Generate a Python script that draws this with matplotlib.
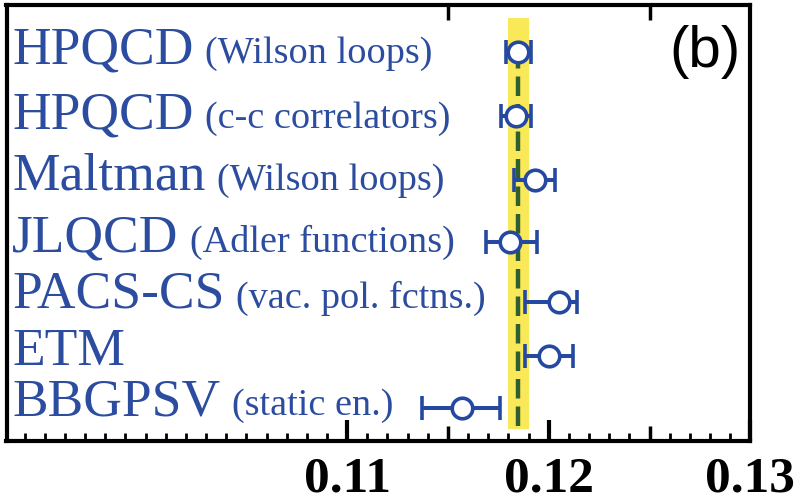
import matplotlib
matplotlib.use('Agg')
import matplotlib.pyplot as plt
import matplotlib.transforms as mtransforms
from matplotlib.ticker import MultipleLocator, FixedLocator

# alpha_s results
groups = ['HPQCD', 'HPQCD', 'Maltman', 'JLQCD', 'PACS-CS', 'ETM', 'BBGPSV']
methods = ['(Wilson loops)', '(c-c correlators)', '(Wilson loops)', '(Adler functions)',
           '(vac. pol. fctns.)', '', '(static en.)']
alpha_s = [0.1185, 0.11836, 0.1193, 0.1181, 0.1205, 0.1200, 0.1157]
err_lo = [0.0006, 0.00075, 0.0010, 0.0012, 0.0017, 0.0012, 0.0020]
err_hi = [0.0006, 0.00075, 0.0010, 0.0013, 0.0009, 0.0012, 0.0019]
average = 0.1185
average_err = 0.0005
tick_values = [0.11, 0.12, 0.13]
tick_labels = ['0.11', '0.12', '0.13']

# layout (vertical positions in pixels from the top)
row_y = [51.7, 116, 180, 241.7, 301.7, 356, 407.7]
label_y = [63.3, 128.3, 190, 251.7, 308, 365, 415]

blue = '#2548a0'
text_blue = '#2b4c9f'
yellow = '#f9e858'
green = '#2f5f2f'

W, H = 796, 501
fig = plt.figure(figsize=(W / 100, H / 100), dpi=100)
ax = fig.add_axes([6.5 / W, 1 - 441 / H, (750.3 - 6.5) / W, (441 - 5.3) / H])
ax.set_xlim(0.0931, 0.13)
ax.set_ylim(441, 5.3)

# world average band and dashed line
ax.fill_betweenx([18, 429], average - average_err, average + average_err,
                 color=yellow, lw=0, zorder=1)
lw_dash = 3.2
ax.plot([average, average], [49.5, 429], color=green, lw=lw_dash,
        ls=(0, (19.5 * 0.72 / lw_dash, 8 * 0.72 / lw_dash)), zorder=2)

ax.errorbar(alpha_s, row_y, xerr=[err_lo, err_hi], fmt='o', ms=14.8, mfc='white',
            mec=blue, mew=2.6, ecolor=blue, elinewidth=2.9, capsize=8.3, capthick=2.9,
            zorder=3)

# axis styling
for s in ax.spines.values():
    s.set_linewidth(3)
ax.set_yticks([])
ax.xaxis.set_major_locator(FixedLocator(tick_values))
ax.set_xticklabels(tick_labels, fontfamily='Liberation Serif', fontweight='bold', fontsize=37)
ax.xaxis.set_minor_locator(MultipleLocator(0.001))
ax.tick_params(axis='x', which='major', direction='in', top=True, bottom=True,
               length=15, width=3, pad=11)
ax.tick_params(axis='x', which='minor', direction='in', top=True, bottom=True,
               length=5.5, width=2)

# medium ticks at the half-way marks
ax2 = ax.twiny()
ax2.set_xlim(ax.get_xlim())
ax2.xaxis.set_major_locator(FixedLocator([0.115, 0.125]))
ax2.tick_params(axis='x', which='major', direction='in', top=True, bottom=True,
                labeltop=False, labelbottom=False, length=10.5, width=2.5)
for s in ax2.spines.values():
    s.set_visible(False)

# row labels
trans = mtransforms.blended_transform_factory(fig.transFigure, ax.transData)
renderer = fig.canvas.get_renderer()
for name, method, yb in zip(groups, methods, label_y):
    t = ax.text(12 / W, yb, name, transform=trans, fontfamily='Liberation Serif',
                fontsize=38.5, color=text_blue, va='baseline', ha='left')
    if method:
        bb = t.get_window_extent(renderer)
        ax.text((bb.x1 + 12) / W, yb, method, transform=trans, fontfamily='Liberation Serif',
                fontsize=27.5, color=text_blue, va='baseline', ha='left')

ax.text(741 / W, 67, '(b)', transform=trans, fontfamily='Liberation Sans',
        fontsize=42, color='black', va='baseline', ha='right')

fig.savefig('out.png', dpi=100)
